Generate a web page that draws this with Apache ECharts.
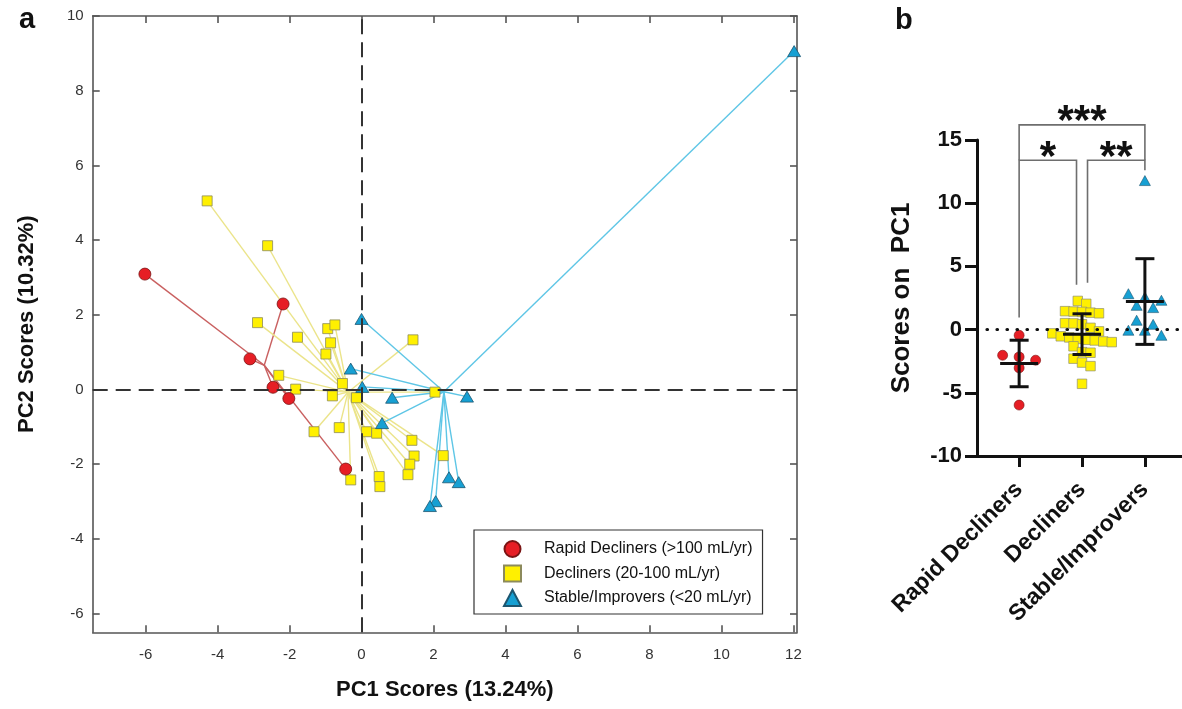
<!DOCTYPE html>
<html><head><meta charset="utf-8">
<script src="https://cdn.jsdelivr.net/npm/echarts@6/dist/echarts.min.js"></script>
<style>html,body{margin:0;padding:0;background:#fff}#c{width:1182px;height:709px}</style>
</head><body><div id="c"></div>
<script>
// ---------- Panel a data (PC1 / PC2 scores) ----------
const groupNames = ['Rapid Decliners (>100 mL/yr)', 'Decliners (20-100 mL/yr)', 'Stable/Improvers (<20 mL/yr)'];
const rapidPC1 = [-6.02, -2.18, -3.10, -2.46, -2.02, -0.44];
const rapidPC2 = [3.09, 2.29, 0.82, 0.06, -0.24, -2.13];
const declPC1 = [-4.29, -2.61, -2.89, -1.78, -0.94, -0.74, -0.86, -0.99, -2.30, -1.83, -0.53, -0.81, -0.14, 1.43, 2.04, -1.32, -0.62, 0.14, 0.42, 1.40, 1.46, 1.34, 1.29, 2.27, -0.30, 0.49, 0.51];
const declPC2 = [5.05, 3.85, 1.79, 1.40, 1.63, 1.73, 1.25, 0.95, 0.38, 0.01, 0.16, -0.17, -0.22, 1.33, -0.07, -1.13, -1.02, -1.13, -1.17, -1.36, -1.78, -2.00, -2.28, -1.77, -2.42, -2.33, -2.60];
const stabPC1 = [0.00, -0.30, 0.02, 0.85, 2.93, 0.57, 2.43, 2.70, 2.06, 1.90, 12.02];
const stabPC2 = [1.89, 0.56, 0.07, -0.22, -0.19, -0.90, -2.35, -2.48, -2.99, -3.12, 9.06];
const xTicksA = [-6, -4, -2, 0, 2, 4, 6, 8, 10, 12];
const yTicksA = [-6, -4, -2, 0, 2, 4, 6, 8, 10];

// ---------- Panel b data (scores on PC1) ----------
const categoriesB = ['Rapid Decliners', 'Decliners', 'Stable/Improvers'];
const rapidScores = [-0.45, -2.03, -2.16, -2.42, -3.03, -5.97];
const declScores = [-4.29, -2.61, -2.89, -1.78, -0.94, -0.74, -0.86, -0.99, -2.30, -1.83, -0.53, -0.81, -0.14, 1.43, 2.04, -1.32, -0.62, 0.14, 0.42, 1.40, 1.46, 1.34, 1.29, 2.27, -0.30, 0.49, 0.51];
const stabScores = [11.79, 2.84, 2.58, 2.32, 1.92, 1.74, 0.74, 0.42, -0.05, -0.05, -0.45];
const groupMean = [-2.68, -0.36, 2.22];
const groupSD = [1.84, 1.61, 3.39];
const yTicksB = [-10, -5, 0, 5, 10, 15];
const sigPairs = [[1, 2], [2, 3], [1, 3]];
const sigLabels = ['*', '**', '***'];
const sigBarLevel = [13.4, 13.4, 16.2];
const sigLegLeft = [0.95, 3.7, 13.4];
const sigLegRight = [3.55, 12.6, 13.4];

// ---------- helpers ----------
const FONT = 'Liberation Sans, Arial, sans-serif';
const zip = (a, b) => a.map((v, i) => [v, b[i]]);
const mean = a => a.reduce((s, v) => s + v, 0) / a.length;
const colors = {
  red: '#e61e25', redEdge: '#7a1414', redLine: '#c96060',
  yel: '#fff000', yelEdge: '#8c8a5c', yelLine: '#ebe48a',
  blu: '#17a0d3', bluEdge: '#1d5670', bluLine: '#5ec6e6'
};

function spokeSeries(name, xs, ys, color) {
  const c = [mean(xs), mean(ys)];
  return {
    name: name, type: 'custom', xAxisIndex: 0, yAxisIndex: 0, z: 2, silent: true,
    data: zip(xs, ys),
    renderItem: function (params, api) {
      const a = api.coord(c), b = api.coord([api.value(0), api.value(1)]);
      return { type: 'line', shape: { x1: a[0], y1: a[1], x2: b[0], y2: b[1] },
        style: { stroke: color, lineWidth: 1.4 } };
    }
  };
}

function swarm(values, pos, binVal, stepPx) {
  const idx = values.map((v, i) => i).sort((a, b) => values[b] - values[a]);
  const rows = []; let cur = null;
  idx.forEach(i => {
    if (!cur || values[cur.start] - values[i] > binVal) { cur = { start: i, members: [] }; rows.push(cur); }
    cur.members.push(i);
  });
  const out = [];
  rows.forEach(r => {
    const n = r.members.length;
    r.members.forEach((i, k) => out.push({ value: [pos, values[i]], symbolOffset: [(k - (n - 1) / 2) * stepPx, 0] }));
  });
  return out;
}

const gridA = { left: 92.7, top: 16, right: 385, bottom: 76.7 };
const gridB = { left: 977, top: 140, right: 0, bottom: 253 };
const boxLine = { color: '#555', width: 1.6 };

const option = {
  animation: false,
  backgroundColor: '#fff',
  grid: [gridA, gridB],
  legend: {
    data: groupNames, left: 474, top: 530, orient: 'vertical',
    padding: [10, 10, 7, 29], borderColor: '#333', borderWidth: 1.2,
    itemWidth: 17, itemHeight: 16, itemGap: 6.5,
    textStyle: { fontFamily: FONT, fontSize: 16, color: '#111', padding: [0, 0, 0, 18] }
  },
  xAxis: [
    { gridIndex: 0, type: 'value', min: -7.47, max: 12.1, position: 'bottom',
      axisLine: { onZero: false, lineStyle: boxLine },
      axisTick: { inside: true, length: 7, customValues: xTicksA, lineStyle: boxLine },
      axisLabel: { customValues: xTicksA, fontFamily: FONT, fontSize: 15, color: '#333', margin: 15 },
      splitLine: { show: false },
      name: 'PC1 Scores (13.24%)', nameLocation: 'middle', nameGap: 47,
      nameTextStyle: { fontFamily: FONT, fontSize: 22, fontWeight: 'bold', color: '#111' } },
    { gridIndex: 0, type: 'value', min: -7.47, max: 12.1, position: 'top',
      axisLine: { onZero: false, lineStyle: boxLine },
      axisTick: { inside: true, length: 7, customValues: xTicksA, lineStyle: boxLine },
      axisLabel: { show: false }, splitLine: { show: false } },
    { gridIndex: 1, type: 'value', min: 0.33, max: 3.59, position: 'bottom',
      axisLine: { onZero: false, lineStyle: { color: '#111', width: 3 } },
      axisTick: { length: 11, customValues: [1, 2, 3], lineStyle: { color: '#111', width: 3 } },
      axisLabel: { customValues: [1, 2, 3], formatter: v => categoriesB[Math.round(v) - 1],
        rotate: 45, fontFamily: FONT, fontSize: 23, fontWeight: 'bold', color: '#111', margin: 30 },
      splitLine: { show: false } }
  ],
  yAxis: [
    { gridIndex: 0, type: 'value', min: -6.5, max: 10, position: 'left',
      axisLine: { onZero: false, lineStyle: boxLine },
      axisTick: { inside: true, length: 7, customValues: yTicksA, lineStyle: boxLine },
      axisLabel: { customValues: yTicksA, fontFamily: FONT, fontSize: 15, color: '#333', margin: 9 },
      splitLine: { show: false },
      name: 'PC2 Scores (10.32%)', nameLocation: 'middle', nameGap: 55, nameRotate: 90,
      nameTextStyle: { fontFamily: FONT, fontSize: 22, fontWeight: 'bold', color: '#111' } },
    { gridIndex: 0, type: 'value', min: -6.5, max: 10, position: 'right',
      axisLine: { onZero: false, lineStyle: boxLine },
      axisTick: { inside: true, length: 7, customValues: yTicksA, lineStyle: boxLine },
      axisLabel: { show: false }, splitLine: { show: false } },
    { gridIndex: 1, type: 'value', min: -10, max: 15, interval: 5, position: 'left',
      axisLine: { onZero: false, lineStyle: { color: '#111', width: 3 } },
      axisTick: { length: 12, lineStyle: { color: '#111', width: 3 } },
      axisLabel: { fontFamily: FONT, fontSize: 22, fontWeight: 'bold', color: '#111', margin: 15 },
      splitLine: { show: false },
      name: 'Scores on  PC1', nameLocation: 'middle', nameGap: 62, nameRotate: 90,
      nameTextStyle: { fontFamily: FONT, fontSize: 26, fontWeight: 'bold', color: '#111' } }
  ],
  graphic: [
    { type: 'text', left: 19, top: 5, style: { text: 'a', font: 'bold 29px ' + FONT, fill: '#111' } },
    { type: 'text', left: 895, top: 6, style: { text: 'b', font: 'bold 29px ' + FONT, fill: '#111' } }
  ],
  series: [
    // zero reference lines (panel a)
    { type: 'scatter', xAxisIndex: 0, yAxisIndex: 0, data: [], z: 1, silent: true,
      markLine: { silent: true, symbol: 'none', animation: false, label: { show: false },
        lineStyle: { color: '#333', width: 2, type: [15, 8] },
        data: [{ xAxis: 0 }, { yAxis: 0 }] } },
    spokeSeries('spokeR', rapidPC1, rapidPC2, colors.redLine),
    spokeSeries('spokeD', declPC1, declPC2, colors.yelLine),
    spokeSeries('spokeS', stabPC1, stabPC2, colors.bluLine),
    { name: groupNames[1], type: 'scatter', xAxisIndex: 0, yAxisIndex: 0, z: 3,
      symbol: 'rect', symbolSize: 10, data: zip(declPC1, declPC2),
      itemStyle: { color: colors.yel, borderColor: colors.yelEdge, borderWidth: 0.8, opacity: 1 } },
    { name: groupNames[2], type: 'scatter', xAxisIndex: 0, yAxisIndex: 0, z: 3,
      symbol: 'triangle', symbolSize: [13, 11], data: zip(stabPC1, stabPC2),
      itemStyle: { color: colors.blu, borderColor: colors.bluEdge, borderWidth: 0.8, opacity: 1 } },
    { name: groupNames[0], type: 'scatter', xAxisIndex: 0, yAxisIndex: 0, z: 4,
      symbol: 'circle', symbolSize: 12, data: zip(rapidPC1, rapidPC2),
      itemStyle: { color: colors.red, borderColor: colors.redEdge, borderWidth: 0.8, opacity: 1 } },

    // ---------- panel b ----------
    { name: 'b-rapid', type: 'scatter', xAxisIndex: 2, yAxisIndex: 2, z: 3, symbol: 'circle', symbolSize: 10,
      data: swarm(rapidScores, 1, 0.7, 16.5),
      itemStyle: { color: colors.red, borderColor: colors.redEdge, borderWidth: 0.6, opacity: 1 } },
    { name: 'b-decl', type: 'scatter', xAxisIndex: 2, yAxisIndex: 2, z: 3, symbol: 'rect', symbolSize: 9.5,
      data: swarm(declScores, 2, 0.7, 8.5),
      itemStyle: { color: colors.yel, borderColor: '#8f8f70', borderWidth: 0.7, opacity: 1 } },
    { name: 'b-stab', type: 'scatter', xAxisIndex: 2, yAxisIndex: 2, z: 3, symbol: 'triangle', symbolSize: [11, 10],
      data: swarm(stabScores, 3, 0.7, 16.5),
      itemStyle: { color: colors.blu, borderColor: colors.bluEdge, borderWidth: 0.6, opacity: 1 } },
    // mean +/- SD
    { name: 'b-err', type: 'custom', xAxisIndex: 2, yAxisIndex: 2, z: 5, silent: true, clip: false,
      data: groupMean.map((m, i) => [i + 1, m, groupSD[i]]),
      renderItem: function (params, api) {
        const x = api.value(0), m = api.value(1), s = api.value(2);
        const pm = api.coord([x, m]), pt = api.coord([x, m + s]), pb = api.coord([x, m - s]);
        const st = { stroke: '#111', lineWidth: 3 };
        const hw = 19, cw = 9.5;
        return { type: 'group', children: [
          { type: 'line', shape: { x1: pm[0], y1: pt[1], x2: pm[0], y2: pb[1] }, style: st },
          { type: 'line', shape: { x1: pm[0] - cw, y1: pt[1], x2: pm[0] + cw, y2: pt[1] }, style: st },
          { type: 'line', shape: { x1: pm[0] - cw, y1: pb[1], x2: pm[0] + cw, y2: pb[1] }, style: st },
          { type: 'line', shape: { x1: pm[0] - hw, y1: pm[1], x2: pm[0] + hw, y2: pm[1] }, style: st }
        ] };
      } },
    // dotted zero line
    { type: 'scatter', xAxisIndex: 2, yAxisIndex: 2, data: [], z: 6, silent: true,
      markLine: { silent: true, symbol: 'none', animation: false, label: { show: false },
        lineStyle: { color: '#111', width: 3.2, type: [0.5, 9.5], cap: 'round' },
        data: [{ yAxis: 0 }] } },
    // significance brackets
    { name: 'b-sig', type: 'custom', xAxisIndex: 2, yAxisIndex: 2, z: 6, silent: true, clip: false,
      data: sigPairs.map((p, i) => [(p[0] + p[1]) / 2, sigBarLevel[i]]),
      renderItem: function (params, api) {
        const i = params.dataIndex;
        const p = sigPairs[i];
        const shift = [[0, -5.5], [5.5, 0], [0, 0]][i];
        const xl = api.coord([p[0], 0])[0] + shift[0];
        const xr = api.coord([p[1], 0])[0] + shift[1];
        const yb = api.coord([0, sigBarLevel[i]])[1];
        const yl = api.coord([0, sigLegLeft[i]])[1];
        const yr = api.coord([0, sigLegRight[i]])[1];
        return { type: 'group', children: [
          { type: 'polyline', shape: { points: [[xl, yl], [xl, yb], [xr, yb], [xr, yr]] },
            style: { stroke: '#6e6e6e', lineWidth: 1.6, fill: null } },
          { type: 'text', style: { text: sigLabels[i], x: (xl + xr) / 2, y: yb - 2,
            align: 'center', verticalAlign: 'middle', font: 'bold 42px ' + FONT, fill: '#111' } }
        ] };
      } }
  ]
};

const chart = echarts.init(document.getElementById('c'), null, { renderer: 'canvas' });
chart.setOption(option);
</script>
</body></html>
